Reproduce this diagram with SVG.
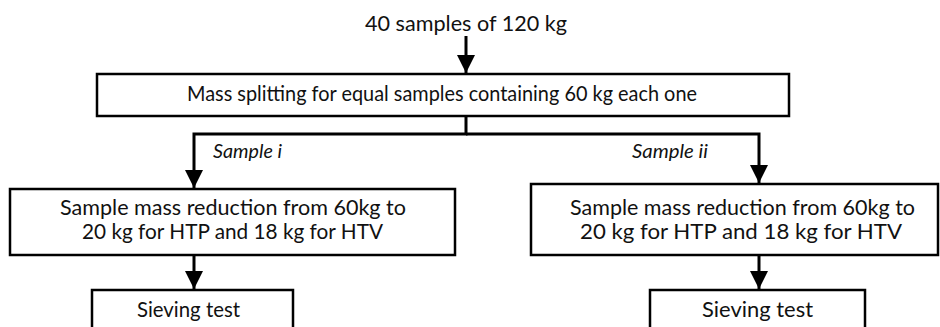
<svg xmlns="http://www.w3.org/2000/svg" width="940" height="327" viewBox="0 0 940 327">
<style>
.box{fill:#fff;stroke:#000;stroke-width:2.5}
.t{font-family:Lato,"Liberation Sans",sans-serif;font-size:21px;fill:#111}
.lbl{font-family:Lato,"Liberation Sans",sans-serif;font-size:19px;font-style:italic;fill:#111}
.c{fill:none;stroke:#000;stroke-width:3}
</style>
<defs>
<marker id="ah" markerUnits="userSpaceOnUse" markerWidth="18" markerHeight="18" refX="18" refY="9" orient="auto">
<path d="M0,0 L18,9 L0,18 z" fill="#000"/>
</marker>
</defs>
<rect width="940" height="327" fill="#fff"/>
<g id="n-start">
<text class="t" x="365" y="31" textLength="202" lengthAdjust="spacingAndGlyphs">40 samples of 120 kg</text>
</g>
<g id="n-split">
<rect class="box" x="97" y="74" width="692" height="42"/>
<text class="t" x="187" y="101" textLength="510" lengthAdjust="spacingAndGlyphs">Mass splitting for equal samples containing 60 kg each one</text>
</g>
<g id="n-red1">
<rect class="box" x="10" y="189" width="445" height="66"/>
<text class="t" x="60" y="215" textLength="346" lengthAdjust="spacingAndGlyphs">Sample mass reduction from 60kg to</text>
<text class="t" x="82" y="239" textLength="301" lengthAdjust="spacingAndGlyphs">20 kg for HTP and 18 kg for HTV</text>
</g>
<g id="n-red2">
<rect class="box" x="531" y="184" width="407" height="71"/>
<text class="t" x="570" y="215" textLength="345" lengthAdjust="spacingAndGlyphs">Sample mass reduction from 60kg to</text>
<text class="t" x="580" y="239" textLength="322" lengthAdjust="spacingAndGlyphs">20 kg for HTP and 18 kg for HTV</text>
</g>
<g id="n-sieve1">
<rect class="box" x="92" y="290" width="201" height="45"/>
<text class="t" x="137" y="317" textLength="103" lengthAdjust="spacingAndGlyphs">Sieving test</text>
</g>
<g id="n-sieve2">
<rect class="box" x="650" y="290" width="215" height="45"/>
<text class="t" x="702" y="317" textLength="111" lengthAdjust="spacingAndGlyphs">Sieving test</text>
</g>
<g id="connectors">
<line class="c" x1="466" y1="36" x2="466" y2="73" marker-end="url(#ah)"/>
<polyline class="c" points="466,117 466,134 194,134 194,188" marker-end="url(#ah)"/>
<polyline class="c" points="466,134 759,134 759,183" marker-end="url(#ah)"/>
<line class="c" x1="194" y1="256" x2="194" y2="289" marker-end="url(#ah)"/>
<line class="c" x1="759" y1="256" x2="759" y2="289" marker-end="url(#ah)"/>
<text class="lbl" x="213" y="158" textLength="69" lengthAdjust="spacingAndGlyphs">Sample i</text>
<text class="lbl" x="632" y="158" textLength="76" lengthAdjust="spacingAndGlyphs">Sample ii</text>
</g>
</svg>
